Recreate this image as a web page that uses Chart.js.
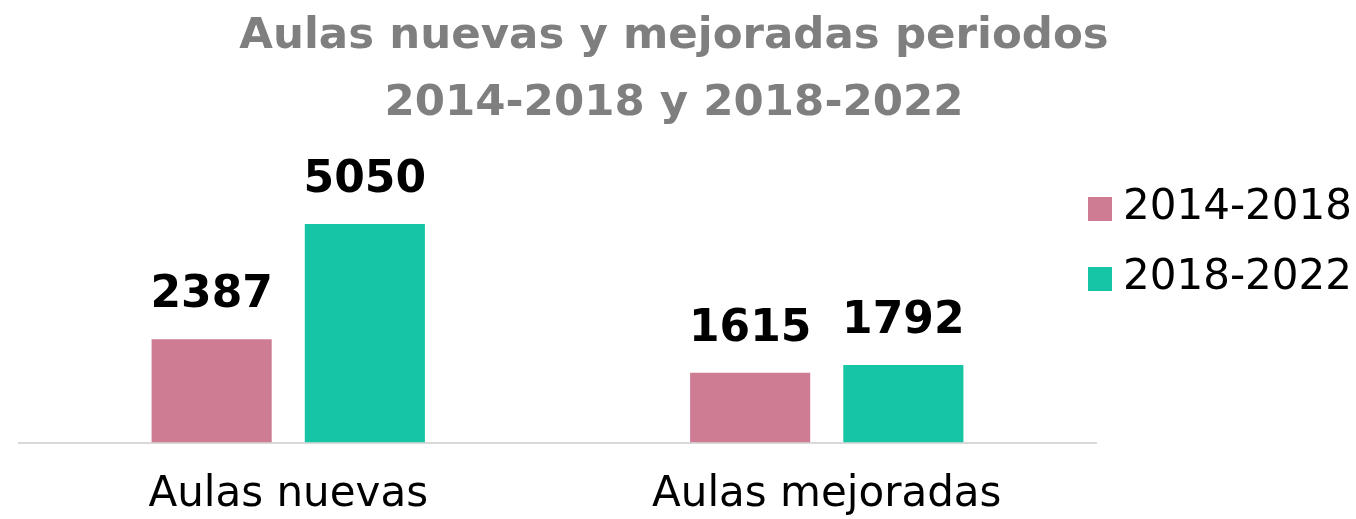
<!DOCTYPE html>
<html>
<head>
<meta charset="utf-8">
<script src="https://cdn.jsdelivr.net/npm/chart.js@4"></script>
<style>
  html, body { margin: 0; padding: 0; background: #fff; }
  #wrap { width: 1356px; height: 519px; position: relative; }
</style>
</head>
<body>
<div id="wrap"><canvas id="chart"></canvas></div>
<script>
// data
const categories = ['Aulas nuevas', 'Aulas mejoradas'];
const periods = ['2014-2018', '2018-2022'];
const values2014 = [2387, 1615];
const values2018 = [5050, 1792];
const colors = ['#cd7c93', '#15c5a5'];
const titleLines = ['Aulas nuevas y mejoradas periodos', '2014-2018 y 2018-2022'];

// title centred on the whole canvas (chart area is pushed left by the legend)
const pageTitle = {
    id: 'pageTitle',
    afterDraw(chart) {
        const ctx = chart.ctx;
        ctx.save();
        ctx.font = 'bold 43.5px "DejaVu Sans"';
        ctx.fillStyle = '#7f7f7f';
        ctx.textAlign = 'center';
        ctx.textBaseline = 'middle';
        titleLines.forEach((t, i) => ctx.fillText(t, chart.width / 2 - 4, 37 + i * 66.5));
        ctx.restore();
    }
};

// value above each bar
const barLabels = {
    id: 'barLabels',
    afterDatasetsDraw(chart) {
        const ctx = chart.ctx;
        ctx.save();
        ctx.font = 'bold 44px "DejaVu Sans"';
        ctx.fillStyle = '#000';
        ctx.textAlign = 'center';
        ctx.textBaseline = 'alphabetic';
        chart.data.datasets.forEach((ds, i) => {
            chart.getDatasetMeta(i).data.forEach((bar, j) => {
                ctx.fillText(String(ds.data[j]), bar.x, bar.y - 32);
            });
        });
        ctx.restore();
    }
};

// legend on the right, drawn by hand
const sideLegend = {
    id: 'sideLegend',
    afterDraw(chart) {
        const ctx = chart.ctx;
        const area = chart.chartArea;
        const x = area.right - 8;
        let y = area.top + 14;
        ctx.save();
        ctx.font = '42px "DejaVu Sans"';
        ctx.textBaseline = 'middle';
        ctx.textAlign = 'left';
        chart.data.datasets.forEach(ds => {
            ctx.fillStyle = ds.backgroundColor;
            ctx.fillRect(x, y, 24, 24);
            ctx.fillStyle = '#000';
            ctx.fillText(ds.label, x + 35, y + 11);
            y += 70;
        });
        ctx.restore();
    }
};

new Chart(document.getElementById('chart'), {
    type: 'bar',
    data: {
        labels: categories,
        datasets: [
            { label: periods[0], data: values2014, backgroundColor: colors[0] },
            { label: periods[1], data: values2018, backgroundColor: colors[1] }
        ]
    },
    options: {
        responsive: true,
        maintainAspectRatio: false,
        animation: false,
        devicePixelRatio: 1,
        layout: { padding: { left: 19, right: 260, top: 183, bottom: -28 } },
        datasets: { bar: { categoryPercentage: 0.569, barPercentage: 0.784 } },
        scales: {
            x: {
                grid: { display: false, drawTicks: false },
                border: { display: true, color: '#d9d9d9', width: 2 },
                ticks: { color: '#000', padding: 27, font: { family: '"DejaVu Sans"', size: 42 } }
            },
            y: { display: false, min: 0, max: 6000 }
        },
        plugins: {
            legend: { display: false },
            tooltip: { enabled: false },
            title: { display: false }
        }
    },
    plugins: [barLabels, sideLegend, pageTitle]
});
</script>
</body>
</html>
